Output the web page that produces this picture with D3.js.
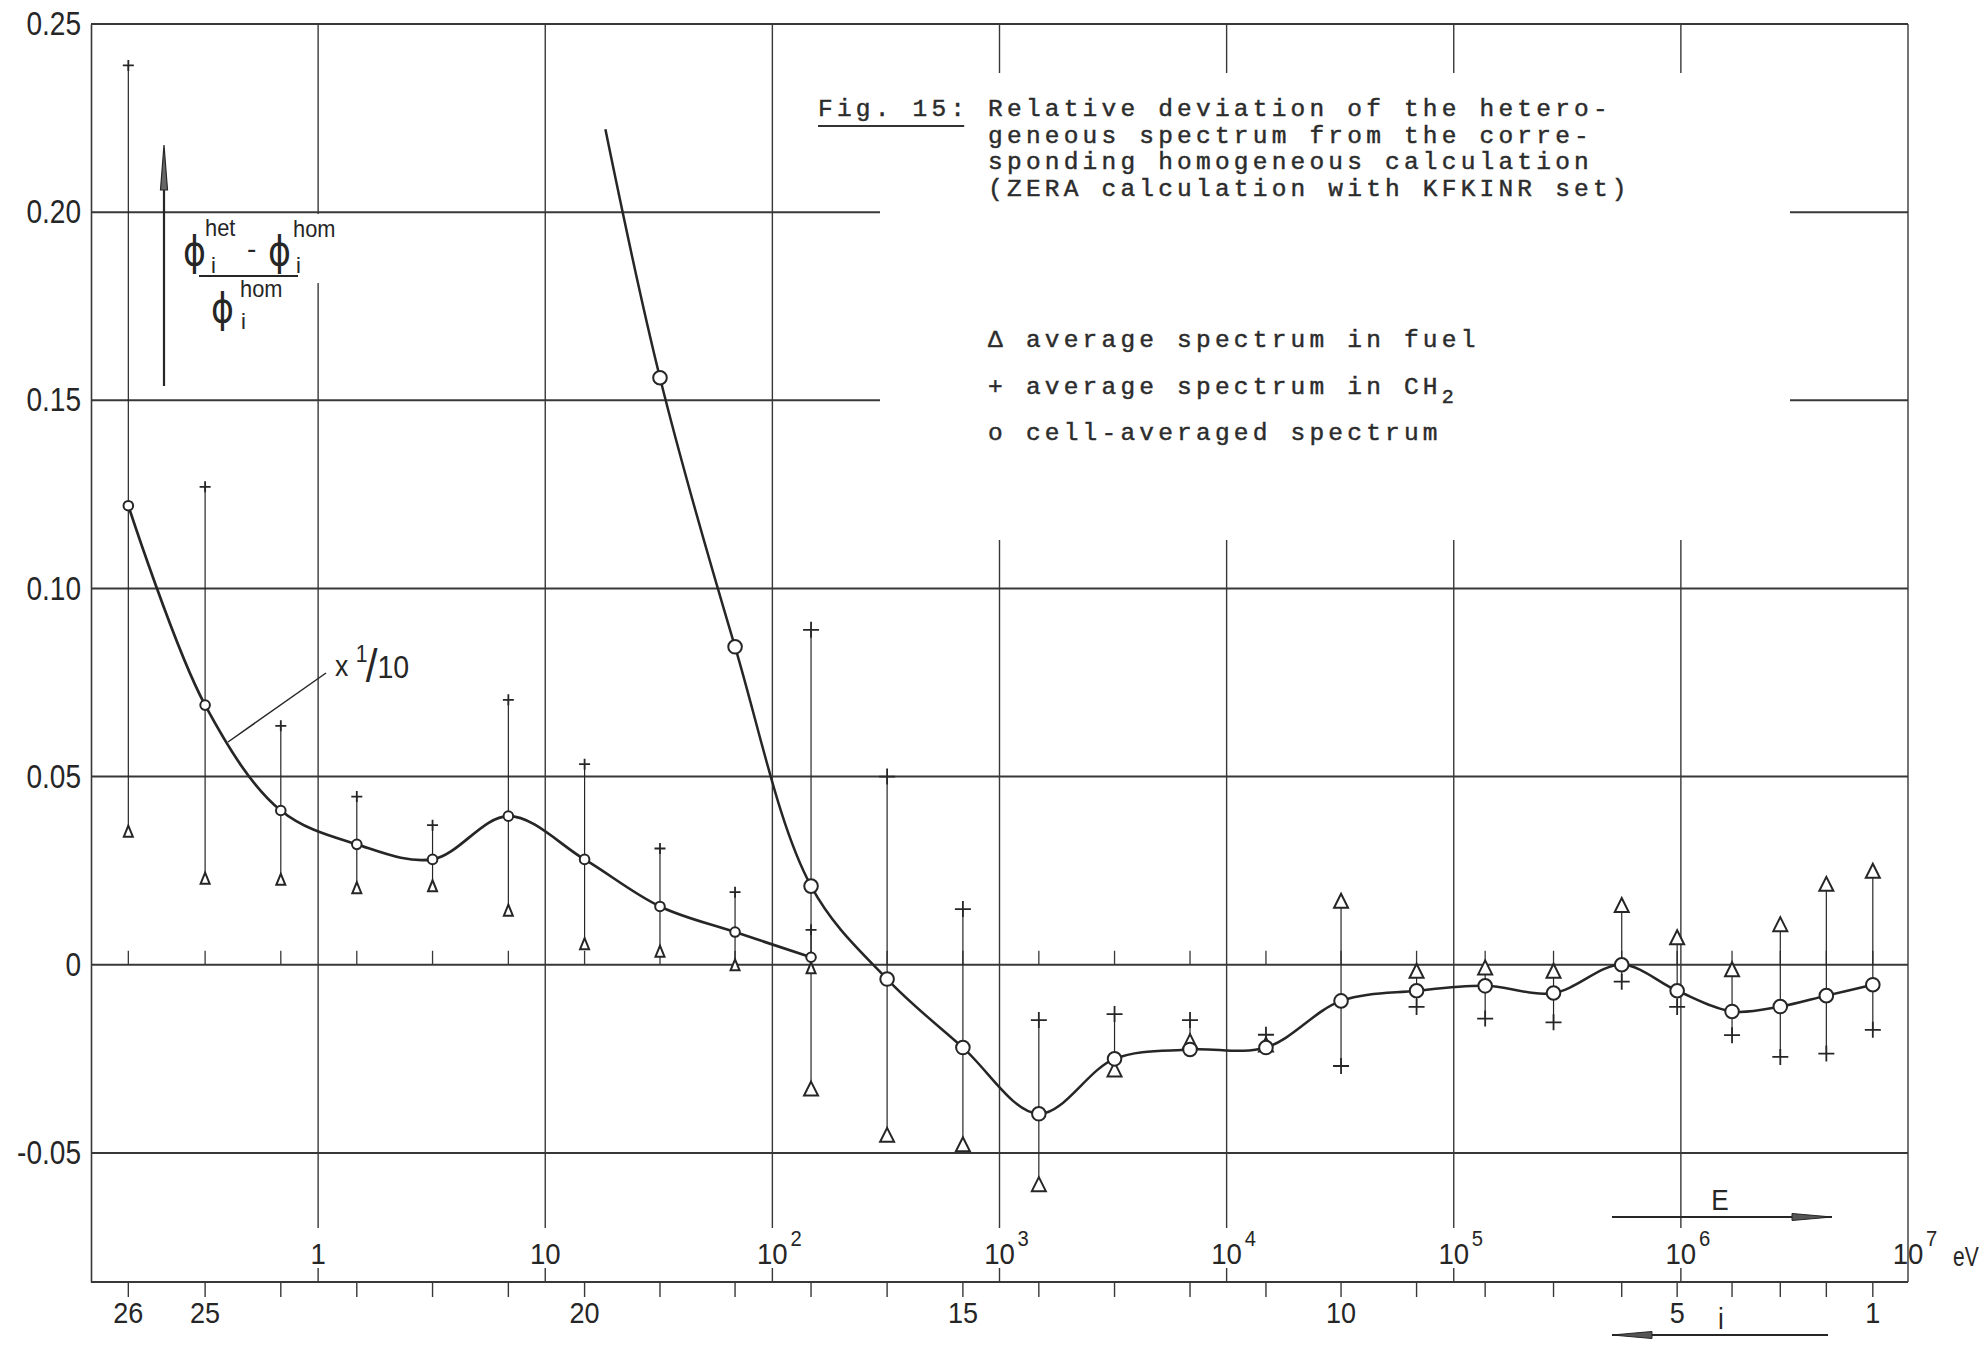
<!DOCTYPE html>
<html><head><meta charset="utf-8">
<script src="https://cdn.jsdelivr.net/npm/d3@7"></script>
<style>
body{margin:0;background:#fff;}
svg{display:block;background:#fff;}
.lab{font-family:"Liberation Sans",Arial,sans-serif;fill:#262626;}
.mono{font-family:"Liberation Mono","DejaVu Sans Mono",monospace;fill:#2c2c2c;stroke:#2c2c2c;stroke-width:0.45;}
.phi{font-family:"DejaVu Sans","Liberation Sans",sans-serif;fill:#262626;}
</style></head><body>
<svg id="c" width="1985" height="1348"></svg>
<script>
// ---------------- data ----------------
const groups = [26,25,24,23,22,21,20,19,18,17,16,15,14,13,12,11,10,9,8,7,6,5,4,3,2,1];
const groupEnergy = [0.146,0.318,0.685,1.48,3.19,6.88,14.9,32.0,68.5,148,320,690,1490,3210,6900,14900,31900,68600,137500,275000,549000,963000,1680000,2740000,4370000,7000000];

// curve plotted "x 1/10" (groups 26..17)
const scaledGroups = [26,25,24,23,22,21,20,19,18,17];
const scaledCell = [0.122,0.069,0.041,0.032,0.028,0.0395,0.028,0.0155,0.0087,0.002];
const scaledFuel = [0.0355,0.023,0.0227,0.0205,0.021,0.0145,0.0056,0.0036,0.0,-0.0008];
const scaledCH2  = [0.239,0.127,0.0635,0.0447,0.0371,0.0704,0.0533,0.0309,0.0193,0.0093];

// curve at full scale (groups 19..1)
const fullGroups = [19,18,17,16,15,14,13,12,11,10,9,8,7,6,5,4,3,2,1];
const fullCell = [0.156,0.0845,0.0209,-0.0038,-0.022,-0.0396,-0.025,-0.0225,-0.022,-0.0096,-0.0069,-0.0056,-0.0075,0.0,-0.0069,-0.0124,-0.0111,-0.0082,-0.0053];
const fuelGroups = [17,16,15,14,13,12,11,10,9,8,7,6,5,4,3,2,1];
const fullFuel = [-0.0329,-0.0452,-0.0477,-0.0583,-0.0278,-0.0203,-0.0212,0.017,-0.0016,-0.0007,-0.0016,0.0159,0.0073,-0.0012,0.0108,0.0215,0.025];
const fullCH2  = [0.089,0.050,0.0148,-0.0147,-0.0131,-0.0147,-0.0186,-0.0269,-0.0112,-0.0143,-0.0153,-0.0045,-0.0112,-0.0187,-0.0245,-0.0236,-0.0173];
// start of the full-scale curve (above group 19)
const curveHeadEnergy = 18.4;
const curveHeadValue = 0.222;

const yTicks = [0.25,0.20,0.15,0.10,0.05,0,-0.05];
const yTickLabels = ["0.25","0.20","0.15","0.10","0.05","0","-0.05"];
const decades = [1,10,100,1e3,1e4,1e5,1e6,1e7];
const decadeBase = ["1","10","10","10","10","10","10","10"];
const decadeExp  = ["","","2","3","4","5","6","7"];
const groupLabels = [26,25,20,15,10,5,1];

const titleHead = "Fig. 15:";
const titleLines = ["Relative deviation of the hetero-",
  "geneous spectrum from the corre-",
  "sponding homogeneous calculation",
  "(ZERA calculation with KFKINR set)"];
const legendLabels = ["average spectrum in fuel","average spectrum in CH","cell-averaged spectrum"];
const legendSymbols = ["Δ","+","o"];

// ---------------- layout ----------------
const svg = d3.select("#c");
const L = 91, R = 1908, T = 24, B = 1282;
const x = d3.scaleLog().domain([0.1,1e7]).range([L,R]);
const y = d3.scaleLinear().domain([-0.0843,0.25]).range([B,T]);
const eOf = g => groupEnergy[groups.indexOf(g)];
const ink = "#262626";

function ctext(parent, cls, px, py, size, s, anchor, sx){
  return parent.append("text").attr("class",cls)
    .attr("transform",`translate(${px},${py}) scale(${sx||1},1)`)
    .attr("font-size",size).attr("text-anchor",anchor||"start").text(s);
}

const grid = svg.append("g").attr("stroke","#383838").attr("fill","none");
// horizontal gridlines (gap for the caption block at 0.20 and 0.15)
yTicks.forEach(v => {
  const segs = (v===0.20||v===0.15) ? [[L,880],[1790,R]] : [[L,R]];
  segs.forEach(s => grid.append("line").attr("x1",s[0]).attr("x2",s[1])
    .attr("y1",y(v)).attr("y2",y(v)).attr("stroke-width",2));
});
// vertical decade gridlines
decades.forEach(d => {
  let segs;
  if (d===1) segs = [[T,214],[283,1228],[1268,B]];
  else if (d===1e7) segs = [[T,B]];
  else if (d>=1e3) segs = [[T,73],[540,1228],[1268,B]];
  else segs = [[T,1228],[1268,B]];
  segs.forEach(s => grid.append("line").attr("x1",x(d)).attr("x2",x(d))
    .attr("y1",s[0]).attr("y2",s[1]).attr("stroke-width",1.4));
});
grid.append("line").attr("x1",L).attr("x2",R).attr("y1",B).attr("y2",B).attr("stroke-width",2);

// left axis with labels
const ya = svg.append("g").attr("transform",`translate(${L},0)`)
  .call(d3.axisLeft(y).tickValues(yTicks).tickFormat((d,i)=>yTickLabels[i]).tickSize(0).tickSizeOuter(0).tickPadding(10));
ya.select(".domain").attr("stroke","#383838").attr("stroke-width",1.6);
ya.selectAll("text").attr("class","lab").attr("font-size",33).attr("fill",ink)
  .attr("x",-10/0.85).attr("transform","scale(0.85,1)");

// decade labels inside frame
decades.forEach((d,i) => {
  ctext(svg,"lab",x(d),1264,30,decadeBase[i],"middle",0.92);
  if (decadeExp[i]) ctext(svg,"lab",x(d)+18,1246,22,decadeExp[i],"start",0.92);
});
ctext(svg,"lab",x(1e7)+45,1266,28,"eV","start",0.75);

// group index ticks below axis
svg.append("g").selectAll("line").data(groups).join("line")
  .attr("x1",g=>x(eOf(g))).attr("x2",g=>x(eOf(g))).attr("y1",B).attr("y2",B+15)
  .attr("stroke","#383838").attr("stroke-width",1.4);
groupLabels.forEach(g => ctext(svg,"lab",x(eOf(g)),1323,30,String(g),"middle",0.9));
// small ticks on the zero line
svg.append("g").selectAll("line").data(groups).join("line")
  .attr("x1",g=>x(eOf(g))).attr("x2",g=>x(eOf(g))).attr("y1",y(0)).attr("y2",y(0)-14)
  .attr("stroke","#383838").attr("stroke-width",1.3);

// E and i arrows
function arrow(x1,x2,yy){
  svg.append("line").attr("x1",x1).attr("x2",x2).attr("y1",yy).attr("y2",yy).attr("stroke",ink).attr("stroke-width",2);
  const dir = Math.sign(x2-x1);
  svg.append("path").attr("d",`M${x2},${yy} L${x2-dir*40},${yy-3.5} L${x2-dir*40},${yy+3.5} Z`).attr("fill","#555").attr("stroke",ink).attr("stroke-width",1);
}
arrow(1612,1832,1217);
ctext(svg,"lab",1720,1210,29,"E","middle",0.9);
arrow(1828,1612,1335);
ctext(svg,"lab",1721,1329,29,"i","middle",0.9);

// ---------------- data marks ----------------
const marks = svg.append("g").attr("stroke",ink).attr("fill","none");
const scaledRows = scaledGroups.map((g,i)=>({e:eOf(g),vals:[scaledCell[i],scaledFuel[i],scaledCH2[i]]}));
const fullRows = fuelGroups.map((g,i)=>({e:eOf(g),vals:[fullCell[fullGroups.indexOf(g)],fullFuel[i],fullCH2[i]]}));
marks.append("g").selectAll("line").data(scaledRows.concat(fullRows)).join("line")
  .attr("x1",d=>x(d.e)).attr("x2",d=>x(d.e))
  .attr("y1",d=>y(d3.max(d.vals))).attr("y2",d=>y(d3.min(d.vals))).attr("stroke-width",1.2);

const line = d3.line().x(d=>x(d.e)).y(d=>y(d.v)).curve(d3.curveCatmullRom.alpha(0.5));
const scaledPts = scaledGroups.map((g,i)=>({e:eOf(g),v:scaledCell[i]}));
const fullPts = [{e:curveHeadEnergy,v:curveHeadValue}].concat(fullGroups.map((g,i)=>({e:eOf(g),v:fullCell[i]})));
marks.append("path").attr("d",line(scaledPts)).attr("stroke-width",2.7);
marks.append("path").attr("d",line(fullPts)).attr("stroke-width",2.5);

// "x 1/10" label with leader (single text element)
marks.append("line").attr("x1",228).attr("y1",742).attr("x2",326).attr("y2",673).attr("stroke-width",1.5);
const xl = svg.append("text").attr("class","lab").attr("transform","translate(335,676) scale(0.92,1)").attr("font-size",29);
xl.append("tspan").text("x ");
xl.append("tspan").attr("font-size",23).attr("dy",-14).text("1");
xl.append("tspan").attr("font-size",46).attr("dy",20).attr("dx",-2).text("/");
xl.append("tspan").attr("font-size",31).attr("dy",-4).text("10");

// markers
const tri = (cx,cy,w,h)=>`M${cx},${cy-h/2} L${cx+w/2},${cy+h/2} L${cx-w/2},${cy+h/2} Z`;
const plus = (cx,cy,s)=>`M${cx-s/2},${cy} H${cx+s/2} M${cx},${cy-s/2} V${cy+s/2}`;
function drawSet(gs, fuel, ch2, tw, th, ps){
  const mg = svg.append("g").attr("stroke",ink).attr("stroke-width",2);
  mg.append("g").selectAll("path").data(gs.map((g,i)=>({e:eOf(g),v:fuel[i]}))).join("path")
    .attr("d",d=>tri(x(d.e),y(d.v),tw,th)).attr("fill","#fff");
  mg.append("g").selectAll("path").data(gs.map((g,i)=>({e:eOf(g),v:ch2[i]}))).join("path")
    .attr("d",d=>plus(x(d.e),y(d.v),ps)).attr("fill","none").attr("stroke-width",1.8);
}
drawSet(scaledGroups,scaledFuel,scaledCH2,9,11,11);
drawSet(fuelGroups,fullFuel,fullCH2,14,14,16);
svg.append("g").selectAll("circle").data(scaledPts).join("circle")
  .attr("cx",d=>x(d.e)).attr("cy",d=>y(d.v)).attr("r",4.8).attr("fill","#fff").attr("stroke",ink).attr("stroke-width",2);
svg.append("g").selectAll("circle").data(fullPts.slice(1)).join("circle")
  .attr("cx",d=>x(d.e)).attr("cy",d=>y(d.v)).attr("r",6.8).attr("fill","#fff").attr("stroke",ink).attr("stroke-width",2);

// ---------------- y label formula & arrow ----------------
svg.append("line").attr("x1",164).attr("x2",164).attr("y1",386).attr("y2",186).attr("stroke",ink).attr("stroke-width",2.2);
svg.append("path").attr("d","M164,145 L167.5,190 L160.5,190 Z").attr("fill","#666").attr("stroke",ink).attr("stroke-width",1.2);
const f = svg.append("g");
ctext(f,"phi",183,265,41,"ϕ","start",0.85);
ctext(f,"lab",205,236,23,"het","start",0.95);
ctext(f,"lab",211,273,22,"i");
ctext(f,"lab",247,258,28,"-");
ctext(f,"phi",268,265,41,"ϕ","start",0.85);
ctext(f,"lab",293,237,23,"hom","start",0.95);
ctext(f,"lab",296,273,22,"i");
f.append("line").attr("x1",199).attr("x2",298).attr("y1",276).attr("y2",276).attr("stroke",ink).attr("stroke-width",2.2);
ctext(f,"lab",240,297,23,"hom","start",0.95);
ctext(f,"phi",211,322,41,"ϕ","start",0.85);
ctext(f,"lab",241,329,22,"i");

// ---------------- caption & legend ----------------
const cap = svg.append("g");
const capFont = 24.5, capX = 818, charW = 18.9, textX = capX + 9*charW;
const capText = cap.append("text").attr("class","mono").attr("font-size",capFont).attr("letter-spacing",charW-0.6*capFont);
capText.append("tspan").attr("x",capX).attr("y",116).text(titleHead);
titleLines.forEach((s,i)=>capText.append("tspan").attr("x",textX).attr("y",116+26.7*i).text(s));
cap.append("line").attr("x1",capX).attr("x2",capX+8*charW-5).attr("y1",126).attr("y2",126).attr("stroke","#333").attr("stroke-width",2.2);

const legY = [347,394,440];
legendLabels.forEach((s,i)=>{
  const tx = cap.append("text").attr("class","mono").attr("font-size",capFont).attr("letter-spacing",charW-0.6*capFont)
    .attr("x",textX).attr("y",legY[i]);
  tx.append("tspan").text(legendSymbols[i]+" "+s);
  if (i===1) tx.append("tspan").attr("dy",9).attr("font-size",20).text("2");
});
</script>
</body></html>
